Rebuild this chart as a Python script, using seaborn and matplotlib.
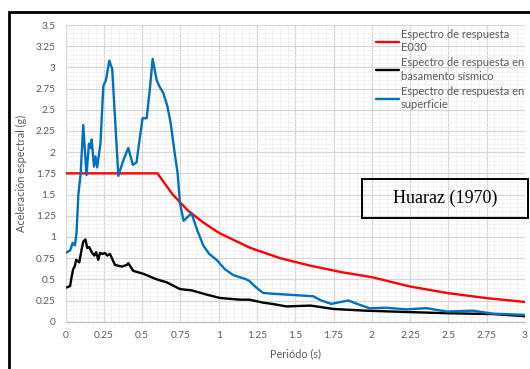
import matplotlib
matplotlib.use("Agg")
import matplotlib.pyplot as plt
import seaborn as sns
import pandas as pd
import numpy as np
from matplotlib.patches import Rectangle
from matplotlib.ticker import MultipleLocator

# ---- data ----
e030_T = [0.0, 0.6, 0.7, 0.8, 0.9, 1.0, 1.2, 1.4, 1.6, 1.8, 2.0, 2.25, 2.5, 2.75, 3.0]
e030_Sa = [1.75, 1.75, 1.50, 1.31, 1.17, 1.05, 0.875, 0.75, 0.66, 0.585, 0.525, 0.415, 0.336, 0.278, 0.233]

base_T = [0.0, 0.008, 0.03, 0.04, 0.05, 0.06, 0.07, 0.09, 0.105, 0.116, 0.13, 0.142, 0.155, 0.171,
          0.188, 0.2, 0.214, 0.225, 0.243, 0.258, 0.273, 0.29, 0.323, 0.367, 0.4, 0.41, 0.442,
          0.508, 0.595, 0.66, 0.747, 0.823, 0.921, 1.008, 1.138, 1.2, 1.29, 1.35, 1.443, 1.6,
          1.75, 1.96, 2.22, 2.49, 2.79, 3.0]
base_Sa = [0.40, 0.405, 0.42, 0.53, 0.62, 0.65, 0.73, 0.70, 0.85, 0.945, 0.97, 0.87, 0.88, 0.82,
           0.78, 0.82, 0.73, 0.81, 0.80, 0.81, 0.78, 0.80, 0.67, 0.65, 0.67, 0.69, 0.60,
           0.565, 0.50, 0.465, 0.385, 0.37, 0.32, 0.28, 0.26, 0.26, 0.225, 0.21, 0.18, 0.19,
           0.15, 0.13, 0.115, 0.10, 0.09, 0.065]

surf_T = [0.0, 0.008, 0.03, 0.047, 0.062, 0.072, 0.084, 0.099, 0.116, 0.137, 0.153, 0.163,
          0.171, 0.186, 0.196, 0.207, 0.228, 0.247, 0.264, 0.286, 0.305, 0.345, 0.377, 0.41,
          0.44, 0.464, 0.48, 0.503, 0.53, 0.551, 0.569, 0.595, 0.612, 0.638, 0.664, 0.686,
          0.712, 0.732, 0.747, 0.771, 0.823, 0.856, 0.899, 0.938, 0.986, 1.04, 1.095, 1.18,
          1.2, 1.247, 1.29, 1.35, 1.486, 1.617, 1.67, 1.735, 1.845, 1.92, 1.986, 2.095, 2.225,
          2.356, 2.487, 2.66, 2.79, 3.0]
surf_Sa = [0.81, 0.82, 0.84, 0.93, 0.90, 1.05, 1.50, 1.75, 2.32, 1.73, 2.10, 2.05,
           2.15, 1.83, 1.95, 1.82, 2.10, 2.78, 2.85, 3.08, 2.98, 1.72, 1.90, 2.05,
           1.85, 1.88, 2.10, 2.40, 2.40, 2.75, 3.10, 2.85, 2.78, 2.70, 2.55, 2.35,
           2.00, 1.75, 1.40, 1.19, 1.28, 1.10, 0.90, 0.80, 0.73, 0.62, 0.55, 0.50,
           0.48, 0.40, 0.34, 0.33, 0.315, 0.30, 0.25, 0.21, 0.25, 0.20, 0.158, 0.165, 0.145,
           0.16, 0.12, 0.13, 0.095, 0.08]

labels = ["Espectro de respuesta\nE030",
          "Espectro de respuesta en\nbasamento sísmico",
          "Espectro de respuesta en\nsuperficie"]
colors = ["#FF0000", "#000000", "#0070C0"]
x_ticks = [0, 0.25, 0.5, 0.75, 1, 1.25, 1.5, 1.75, 2, 2.25, 2.5, 2.75, 3]
x_ticklabels = ["0", "0.25", "0.5", "0.75", "1", "1.25", "1.5", "1.75", "2", "2.25", "2.5", "2.75", "3"]
y_ticks = [0, 0.25, 0.5, 0.75, 1, 1.25, 1.5, 1.75, 2, 2.25, 2.5, 2.75, 3, 3.25, 3.5]
y_ticklabels = ["0", "0.25", "0.5", "0.75", "1", "1.25", "1.5", "1.75", "2", "2.25", "2.5", "2.75", "3", "3.25", "3.5"]

df = pd.concat([
    pd.DataFrame({"T": e030_T, "Sa": e030_Sa, "serie": labels[0]}),
    pd.DataFrame({"T": base_T, "Sa": base_Sa, "serie": labels[1]}),
    pd.DataFrame({"T": surf_T, "Sa": surf_Sa, "serie": labels[2]}),
], ignore_index=True)

sns.set_style("white")
plt.rcParams["font.family"] = ["Lato", "DejaVu Sans"]

W, H = 530, 369
fig = plt.figure(figsize=(W / 100, H / 100), dpi=100)
ax = fig.add_axes([65.5 / W, 1 - 321.7 / H, (525 - 65.5) / W, (321.7 - 25) / H])

sns.lineplot(data=df, x="T", y="Sa", hue="serie", palette=dict(zip(labels, colors)),
             hue_order=labels, sort=False, estimator=None, linewidth=1.7, ax=ax, legend=True)

ax.set_xlim(0, 3)
ax.set_ylim(0, 3.5)
ax.set_xticks(x_ticks)
ax.set_xticklabels(x_ticklabels)
ax.set_yticks(y_ticks)
ax.set_yticklabels(y_ticklabels)
ax.xaxis.set_minor_locator(MultipleLocator(0.05))
ax.yaxis.set_minor_locator(MultipleLocator(0.05))
ax.grid(which="minor", color="#efefef", linewidth=0.6)
ax.grid(which="major", color="#d6d6d6", linewidth=0.9)
ax.set_axisbelow(True)
for s in ["top", "right", "left"]:
    ax.spines[s].set_visible(False)
ax.spines["bottom"].set_color("#bfbfbf")
ax.spines["bottom"].set_linewidth(0.9)
ax.tick_params(axis="both", which="major", labelsize=7.3, labelcolor="#595959", color="#bfbfbf",
               length=3, width=0.8, pad=4)
ax.tick_params(axis="both", which="minor", length=0)

ax.set_xlabel("Periódo (s)", fontsize=7.8, color="#595959", labelpad=6)
ax.set_ylabel("Aceleración espectral (g)", fontsize=7.8, color="#595959", labelpad=6)

leg = ax.legend(loc="upper left", bbox_to_anchor=((376 - 65.5) / (525 - 65.5), 0.988), frameon=False,
                fontsize=8, handlelength=2.1, handletextpad=0.15, labelspacing=0.35,
                borderaxespad=0.0, borderpad=0.0)
for t in leg.get_texts():
    t.set_color("#595959")
    t.set_linespacing(1.3)
for l in leg.get_lines():
    l.set_linewidth(1.7)

# annotation box
fig.text(445 / W, 1 - 198.5 / H, "Huaraz (1970)", ha="center", va="center",
         fontsize=13, family=["Liberation Serif", "DejaVu Serif"], color="black")
fig.patches.append(Rectangle((361.7 / W, 1 - 218.3 / H), (528 - 361.7) / W, (218.3 - 179) / H,
                             transform=fig.transFigure, fill=False, edgecolor="black", linewidth=1.4,
                             zorder=5))
# outer frame
fig.patches.append(Rectangle((8.5 / W, -0.05), 1.0, 1 - 12 / H + 0.05,
                             transform=fig.transFigure, fill=False, edgecolor="black", linewidth=2.0,
                             zorder=5))

fig.savefig("out.png", dpi=100)
